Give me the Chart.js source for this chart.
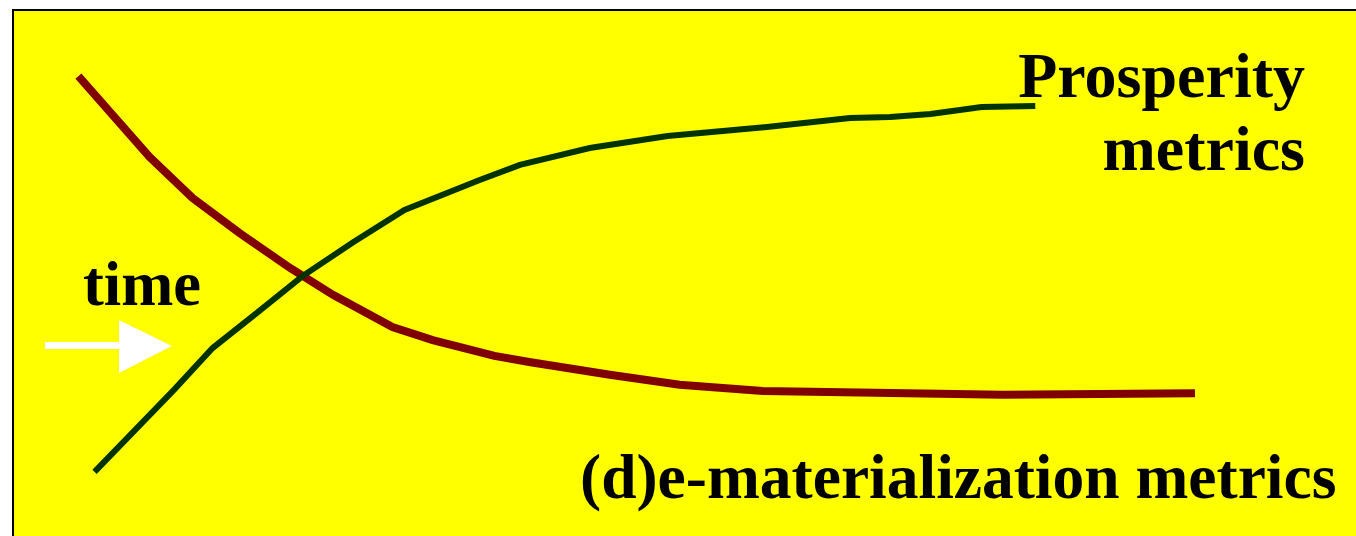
<!DOCTYPE html>
<html>
<head>
<meta charset="utf-8">
<script src="https://cdn.jsdelivr.net/npm/chart.js@4"></script>
<style>
    html, body { margin: 0; padding: 0; background: #ffffff; }
    #frame {
        position: absolute;
        left: 12px;
        top: 9px;
        width: 1344px;
        height: 527px;
        box-sizing: border-box;
        border-left: 2px solid #000000;
        border-top: 2px solid #000000;
        background: #ffff00;
    }
    #wrap { position: relative; width: 100%; height: 100%; }
</style>
</head>
<body>
<div id="frame"><div id="wrap"><canvas id="chart"></canvas></div></div>
<script>
// Sketch values: time (0-100) against metric level (0-100)
const materialTime = [4.8, 10.1, 13.3, 16.8, 20.6, 23.8, 28.2, 31.2, 35.8, 38.5, 44.4, 49.6, 55.8, 73.7, 88.0];
const materialLevel = [87.6, 72.2, 64.4, 57.7, 51.0, 45.9, 39.8, 37.3, 34.3, 33.1, 30.7, 28.8, 27.6, 26.9, 27.2];

const prosperityTime = [6.0, 11.9, 14.8, 18.1, 21.5, 25.3, 29.1, 34.7, 37.7, 42.9, 48.7, 56.1, 62.3, 65.3, 68.3, 72.1, 76.1];
const prosperityLevel = [12.2, 27.8, 35.8, 42.5, 49.5, 56.0, 62.1, 67.8, 70.7, 73.9, 76.2, 77.9, 79.6, 79.8, 80.4, 81.7, 81.9];

const labelProsperity = ['Prosperity', 'metrics'];
const labelMaterial = '(d)e-materialization metrics';
const labelTime = 'time';

const toPoints = (xs, ys) => xs.map((x, i) => ({ x: x, y: ys[i] }));

// Texte a bílá šipka se kreslí přímo na canvas (souřadnice canvasu)
const annotationPlugin = {
    id: 'sketchAnnotations',
    afterDatasetsDraw(chart) {
        const ctx = chart.ctx;
        ctx.save();

        // šipka "time"
        ctx.fillStyle = '#ffffff';
        ctx.fillRect(31, 331, 76, 7);
        ctx.beginPath();
        ctx.moveTo(105, 309);
        ctx.lineTo(158, 335);
        ctx.lineTo(105, 362);
        ctx.closePath();
        ctx.fill();

        ctx.fillStyle = '#000000';
        ctx.textBaseline = 'alphabetic';

        ctx.font = 'bold 62.5px "Liberation Serif", "Times New Roman", serif';
        ctx.textAlign = 'left';
        ctx.fillText(labelTime, 69, 294);

        ctx.font = 'bold 63.5px "Liberation Serif", "Times New Roman", serif';
        ctx.fillText(labelMaterial, 566, 487);

        ctx.font = 'bold 64px "Liberation Serif", "Times New Roman", serif';
        ctx.textAlign = 'right';
        ctx.fillText(labelProsperity[0], 1291, 86);
        ctx.fillText(labelProsperity[1], 1291, 159);

        ctx.restore();
    }
};

new Chart(document.getElementById('chart'), {
    type: 'line',
    data: {
        datasets: [
            {
                label: 'Prosperity metrics',
                data: toPoints(prosperityTime, prosperityLevel),
                borderColor: '#003300',
                borderWidth: 6,
                borderCapStyle: 'butt',
                borderJoinStyle: 'miter',
                tension: 0,
                pointRadius: 0,
                fill: false
            },
            {
                label: '(d)e-materialization metrics',
                data: toPoints(materialTime, materialLevel),
                borderColor: '#800000',
                borderWidth: 8,
                borderCapStyle: 'butt',
                borderJoinStyle: 'miter',
                tension: 0,
                pointRadius: 0,
                fill: false
            }
        ]
    },
    options: {
        responsive: true,
        maintainAspectRatio: false,
        animation: false,
        layout: { padding: 0 },
        plugins: {
            legend: { display: false },
            tooltip: { enabled: false }
        },
        scales: {
            x: { type: 'linear', min: 0, max: 100, display: false },
            y: { type: 'linear', min: 0, max: 100, display: false }
        }
    },
    plugins: [annotationPlugin]
});
</script>
</body>
</html>
